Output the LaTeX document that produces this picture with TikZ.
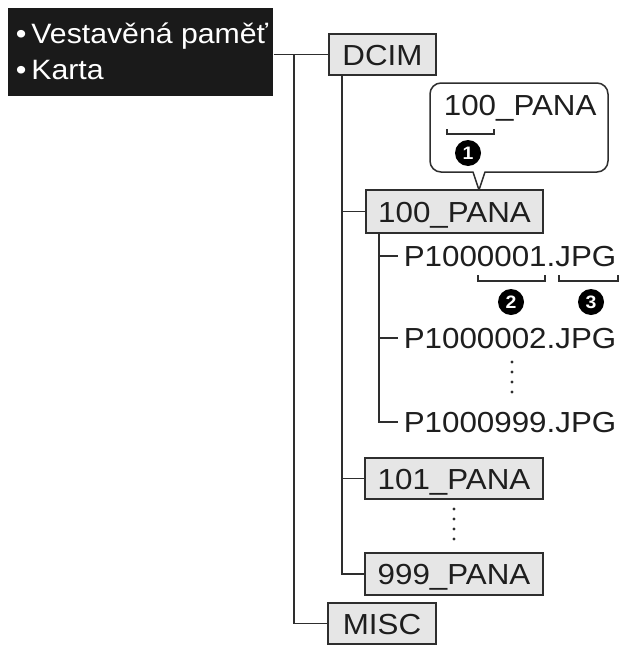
\documentclass[tikz,border=0pt]{standalone}
\usepackage{fontspec}
\setmainfont{Liberation Sans}[FakeStretch=1.08]
\definecolor{lin}{HTML}{2E2E2E}
\definecolor{txt}{HTML}{1E1E1E}
\definecolor{boxfill}{HTML}{E6E6E6}
\definecolor{blackbox}{HTML}{1A1A1A}
\begin{document}
\begin{tikzpicture}[x=1pt,y=-1pt,
  line width=1.7pt, lin,
  every node/.style={inner sep=0pt, text=txt},
  folder/.style={draw=lin, fill=boxfill, line width=1.8pt,
    font=\fontsize{29}{30}\selectfont, text height=21pt, text depth=0pt},
  fname/.style={anchor=west, inner xsep=5pt,
    font=\fontsize{29}{30}\selectfont, text height=21pt, text depth=0pt},
  srctext/.style={anchor=base west, text=white, font=\fontsize{28}{29}\selectfont},
  num/.style={circle, fill=black, text=white, minimum size=26pt,
    font=\bfseries\fontsize{18}{18}\selectfont},
  brk/.style={line width=1.3pt, line join=miter}
]
\useasboundingbox[fill=white] (0,0) rectangle (626,648);

% source box
\node[fill=blackbox, minimum width=265pt, minimum height=88pt, anchor=north west] (src) at (7,7) {};
\node[srctext] (mem) at (15,43) {•\hspace{5pt}Vestavěná paměť};
\node[srctext] (card) at (15,79) {•\hspace{5pt}Karta};

% folders
\node[folder, minimum width=107pt, minimum height=41pt] (dcim) at (382.5,54.5) {DCIM};
\node[folder, minimum width=177pt, minimum height=43pt] (p100) at (454.5,211.5) {100\_PANA};
\node[folder, minimum width=178pt, minimum height=41pt] (p101) at (454,478.5) {101\_PANA};
\node[folder, minimum width=178pt, minimum height=42pt] (p999) at (454,574) {999\_PANA};
\node[folder, minimum width=108pt, minimum height=41pt] (misc) at (382,623.5) {MISC};

% files
\node[fname] (f1) at (398,256) {P1000001.JPG};
\node[fname] (f2) at (398,338) {P1000002.JPG};
\node[fname] (f999) at (398,422) {P1000999.JPG};

% trunks
\coordinate (trunkA) at (294,54.5);
\coordinate (trunkB) at (342,75);
\coordinate (trunkC) at (379,233);
\draw (src.east |- dcim.west) -- (dcim.west);
\draw (trunkA) |- (misc.west);
\draw (trunkB) |- (p999.west);
\draw (trunkB |- p100.west) -- (p100.west);
\draw (trunkB |- p101.west) -- (p101.west);
\draw (trunkC) |- (f999.west);
\draw (trunkC |- f1.west) -- (f1.west);
\draw (trunkC |- f2.west) -- (f2.west);

% vertical ellipses
\foreach \yy in {362,372,382,392} \fill[lin] (512,\yy) circle (1.7);
\foreach \yy in {509,519,529,539} \fill[lin] (454,\yy) circle (1.7);

% callout
\coordinate (tip) at (479,190);
\draw[line width=1.5pt, fill=white, line join=round] (tip) -- (473,172) [rounded corners=11pt] -- (430,172) -- (430,83) -- (608,83) -- (608,172) [sharp corners] -- (485,172) -- cycle;
\node[anchor=base west, font=\fontsize{29}{30}\selectfont] (ctext) at (443,115) {100\_PANA};
\draw[brk] (447,129) -- (447,134) -- (494,134) -- (494,129);
\node[num] (n1) at (468,153) {1};

% brackets under file name
\draw[brk] (478,275) -- (478,281) -- (545,281) -- (545,275);
\draw[brk] (559,275) -- (559,281) -- (618,281) -- (618,275);
\node[num] (n2) at (511,302) {2};
\node[num] (n3) at (591,302) {3};
\end{tikzpicture}
\end{document}
